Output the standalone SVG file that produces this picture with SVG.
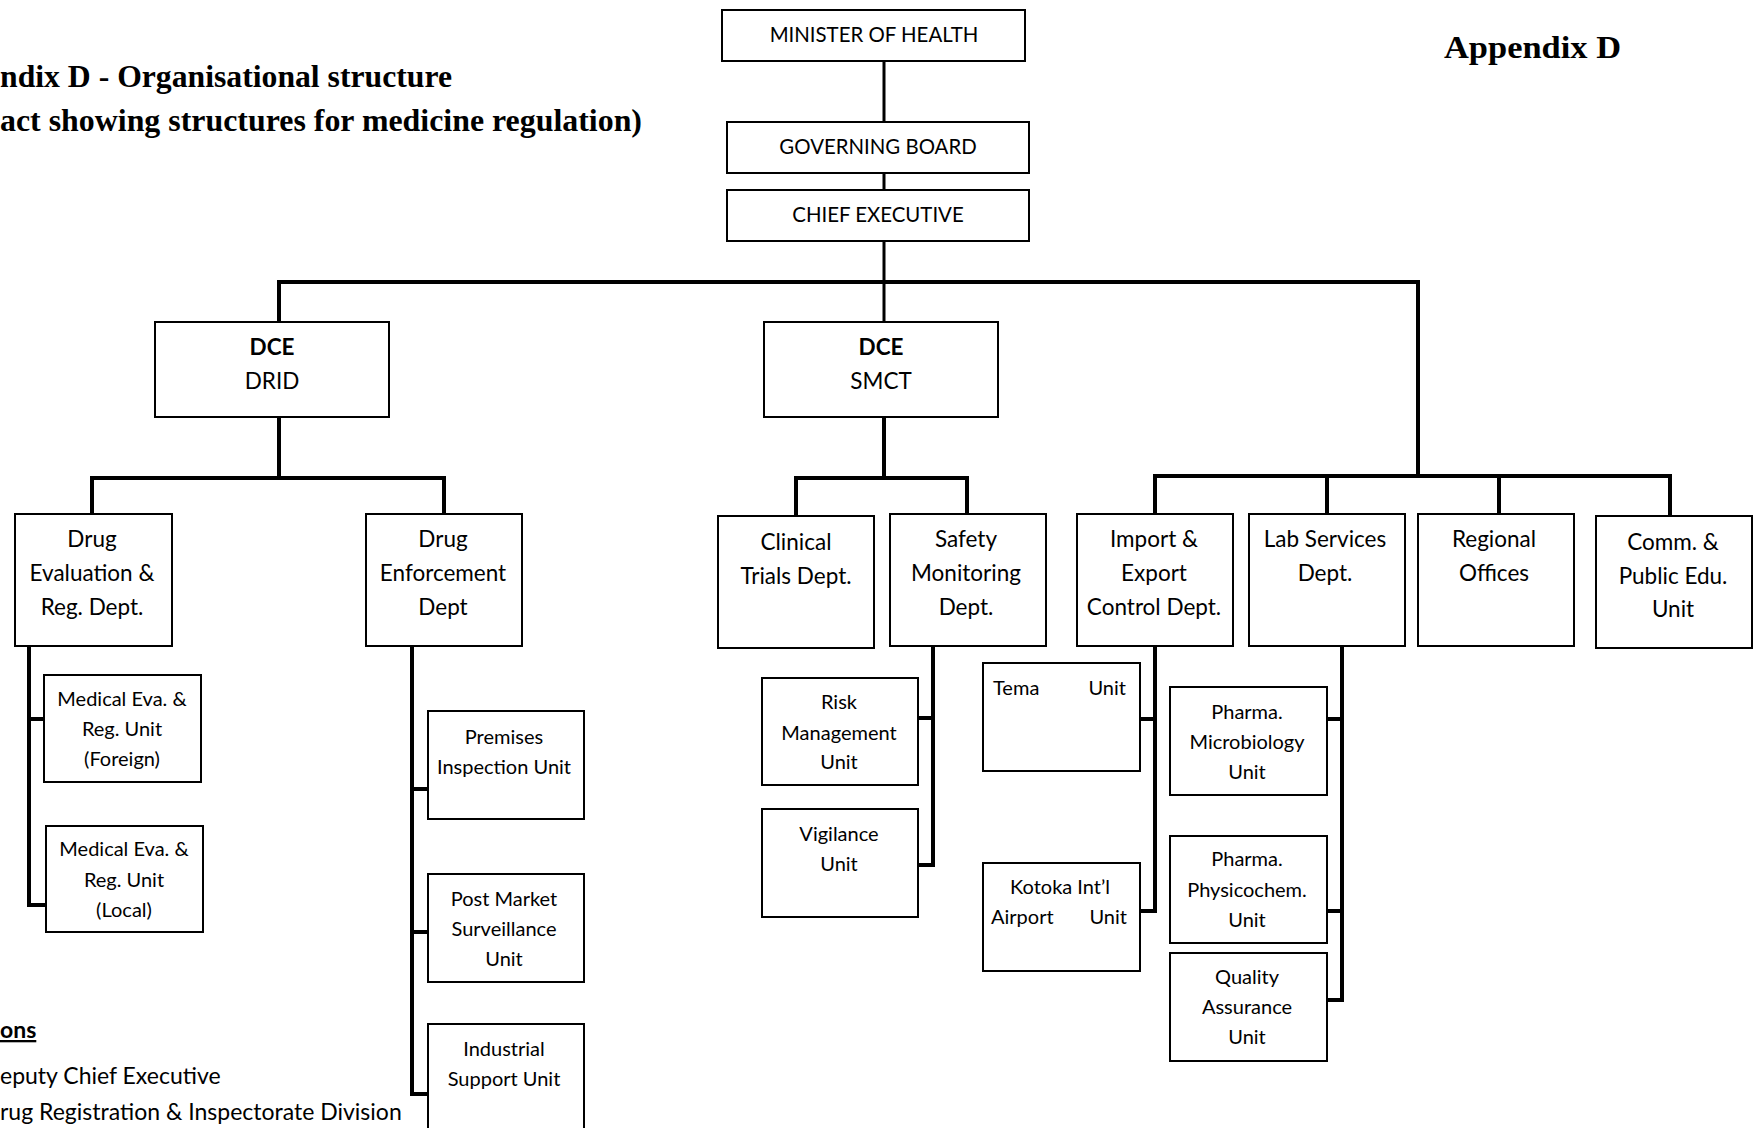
<svg xmlns="http://www.w3.org/2000/svg" width="1759" height="1128" viewBox="0 0 1759 1128">
<style>
.box{fill:#fff;stroke:#000;stroke-width:2}
.t{font-family:Lato,"Liberation Sans",sans-serif;fill:#000;text-anchor:middle}
.top{font-size:20.4px}
.dept{font-size:22.5px}
.unit{font-size:20px}
.b{font-weight:bold}
.ttl{font-family:"Liberation Serif","Times New Roman",serif;font-weight:bold;font-size:31px;fill:#000}
.leg{font-family:Lato,"Liberation Sans",sans-serif;font-size:23px;fill:#000}
.c{fill:none;stroke:#000;stroke-width:4}
.c3{fill:none;stroke:#000;stroke-width:3}
</style>
<rect width="1759" height="1128" fill="#fff"/>

<g id="titles">
<text class="ttl" x="0" y="87" textLength="452" lengthAdjust="spacingAndGlyphs">ndix D - Organisational structure</text>
<text class="ttl" x="0" y="131" textLength="642" lengthAdjust="spacingAndGlyphs">act showing structures for medicine regulation)</text>
<text class="ttl" x="1444" y="58" textLength="177" lengthAdjust="spacingAndGlyphs">Appendix D</text>
</g>

<g id="connectors">
<path class="c3" d="M884 61V122M884 173V190M884 241V322"/>
<path class="c" d="M279 322V282H1418V478M279 282H1418"/>
<path class="c" d="M279 417V478M92 514V478H444V514"/>
<path class="c" d="M884 417V478M796 516V478H967V514"/>
<path class="c" d="M1155 514V476H1670V516M1327 476V514M1499 476V514"/>
<path class="c" d="M29 646V905H46M29 719H44"/>
<path class="c" d="M412 646V1094H428M412 789H428M412 932H428"/>
<path class="c" d="M933 646V865H918M933 718H918"/>
<path class="c" d="M1155 646V911H1140M1155 719H1140"/>
<path class="c" d="M1342 646V1000H1327M1342 719H1327M1342 911H1327"/>
</g>

<g id="minister"><rect class="box" x="722" y="10" width="303" height="51"/><text class="t top" x="874" y="42">MINISTER OF HEALTH</text></g>
<g id="board"><rect class="box" x="727" y="122" width="302" height="51"/><text class="t top" x="878" y="154">GOVERNING BOARD</text></g>
<g id="ce"><rect class="box" x="727" y="190" width="302" height="51"/><text class="t top" x="878" y="222">CHIEF EXECUTIVE</text></g>

<g id="dce-drid"><rect class="box" x="155" y="322" width="234" height="95"/><text class="t dept b" x="272" y="355">DCE</text><text class="t dept" x="272" y="389">DRID</text></g>
<g id="dce-smct"><rect class="box" x="764" y="322" width="234" height="95"/><text class="t dept b" x="881" y="355">DCE</text><text class="t dept" x="881" y="389">SMCT</text></g>

<g id="drug-eval"><rect class="box" x="15" y="514" width="157" height="132"/><text class="t dept" x="92" y="547">Drug</text><text class="t dept" x="92" y="581">Evaluation &amp;</text><text class="t dept" x="92" y="615">Reg. Dept.</text></g>
<g id="drug-enf"><rect class="box" x="366" y="514" width="156" height="132"/><text class="t dept" x="443" y="547">Drug</text><text class="t dept" x="443" y="581">Enforcement</text><text class="t dept" x="443" y="615">Dept</text></g>
<g id="clinical"><rect class="box" x="718" y="516" width="156" height="132"/><text class="t dept" x="796" y="550">Clinical</text><text class="t dept" x="796" y="584">Trials Dept.</text></g>
<g id="safety"><rect class="box" x="890" y="514" width="156" height="132"/><text class="t dept" x="966" y="547">Safety</text><text class="t dept" x="966" y="581">Monitoring</text><text class="t dept" x="966" y="615">Dept.</text></g>
<g id="import"><rect class="box" x="1077" y="514" width="156" height="132"/><text class="t dept" x="1154" y="547">Import &amp;</text><text class="t dept" x="1154" y="581">Export</text><text class="t dept" x="1154" y="615">Control Dept.</text></g>
<g id="lab"><rect class="box" x="1249" y="514" width="156" height="132"/><text class="t dept" x="1325" y="547">Lab Services</text><text class="t dept" x="1325" y="581">Dept.</text></g>
<g id="regional"><rect class="box" x="1418" y="514" width="156" height="132"/><text class="t dept" x="1494" y="547">Regional</text><text class="t dept" x="1494" y="581">Offices</text></g>
<g id="comm"><rect class="box" x="1596" y="516" width="156" height="132"/><text class="t dept" x="1673" y="550">Comm. &amp;</text><text class="t dept" x="1673" y="584">Public Edu.</text><text class="t dept" x="1673" y="617">Unit</text></g>

<g id="med-foreign"><rect class="box" x="44" y="675" width="157" height="107"/><text class="t unit" x="122" y="706">Medical Eva. &amp;</text><text class="t unit" x="122" y="736">Reg. Unit</text><text class="t unit" x="122" y="766">(Foreign)</text></g>
<g id="med-local"><rect class="box" x="46" y="826" width="157" height="106"/><text class="t unit" x="124" y="856">Medical Eva. &amp;</text><text class="t unit" x="124" y="887">Reg. Unit</text><text class="t unit" x="124" y="917">(Local)</text></g>

<g id="premises"><rect class="box" x="428" y="711" width="156" height="108"/><text class="t unit" x="504" y="744">Premises</text><text class="t unit" x="504" y="774">Inspection Unit</text></g>
<g id="postmarket"><rect class="box" x="428" y="874" width="156" height="108"/><text class="t unit" x="504" y="906">Post Market</text><text class="t unit" x="504" y="936">Surveillance</text><text class="t unit" x="504" y="966">Unit</text></g>
<g id="industrial"><rect class="box" x="428" y="1024" width="156" height="120"/><text class="t unit" x="504" y="1056">Industrial</text><text class="t unit" x="504" y="1086">Support Unit</text></g>

<g id="risk"><rect class="box" x="762" y="678" width="156" height="107"/><text class="t unit" x="839" y="709">Risk</text><text class="t unit" x="839" y="740">Management</text><text class="t unit" x="839" y="769">Unit</text></g>
<g id="vigilance"><rect class="box" x="762" y="809" width="156" height="108"/><text class="t unit" x="839" y="841">Vigilance</text><text class="t unit" x="839" y="871">Unit</text></g>

<g id="tema"><rect class="box" x="983" y="663" width="157" height="108"/><text class="t unit" x="993" y="695" style="text-anchor:start">Tema</text><text class="t unit" x="1126" y="695" style="text-anchor:end">Unit</text></g>
<g id="kotoka"><rect class="box" x="983" y="863" width="157" height="108"/><text class="t unit" x="1060" y="894">Kotoka Int’l</text><text class="t unit" x="991" y="924" style="text-anchor:start">Airport</text><text class="t unit" x="1127" y="924" style="text-anchor:end">Unit</text></g>

<g id="micro"><rect class="box" x="1170" y="687" width="157" height="108"/><text class="t unit" x="1247" y="719">Pharma.</text><text class="t unit" x="1247" y="749">Microbiology</text><text class="t unit" x="1247" y="779">Unit</text></g>
<g id="physico"><rect class="box" x="1170" y="836" width="157" height="107"/><text class="t unit" x="1247" y="866">Pharma.</text><text class="t unit" x="1247" y="897">Physicochem.</text><text class="t unit" x="1247" y="927">Unit</text></g>
<g id="qa"><rect class="box" x="1170" y="953" width="157" height="108"/><text class="t unit" x="1247" y="984">Quality</text><text class="t unit" x="1247" y="1014">Assurance</text><text class="t unit" x="1247" y="1044">Unit</text></g>

<g id="legend">
<text class="leg" x="0" y="1038" font-weight="bold" text-decoration="underline">ons</text>
<text class="leg" x="0" y="1084">eputy Chief Executive</text>
<text class="leg" x="0" y="1120">rug Registration &amp; Inspectorate Division</text>
</g>
</svg>
